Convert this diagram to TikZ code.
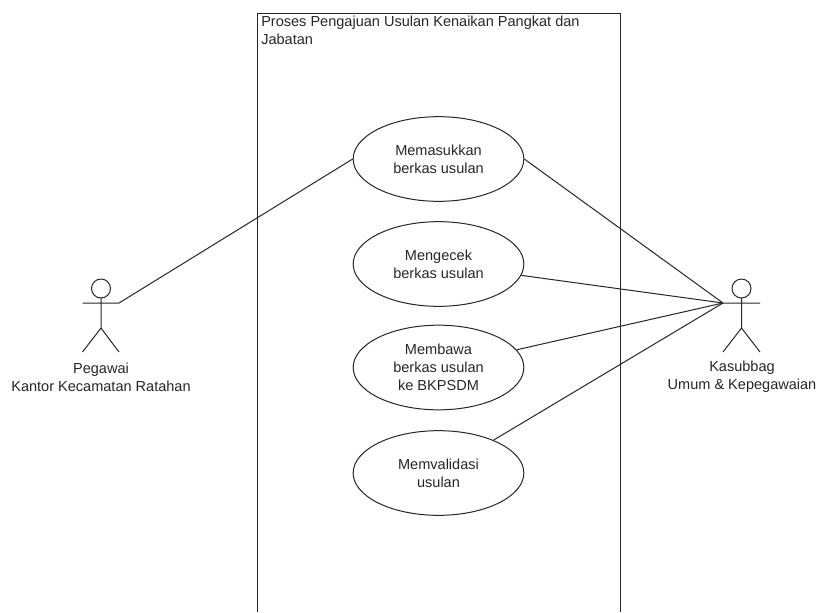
\documentclass[tikz,border=0pt]{standalone}
\usepackage{fontspec}
\setmainfont{Liberation Sans}
\usetikzlibrary{shapes.geometric}
\colorlet{inktext}{black!85}
\colorlet{inkline}{black!85}
\tikzset{
  px/.style={x=0.75pt,y=-0.75pt},
  uc/.style={draw=inkline,text=inktext,ellipse,minimum width=128pt,minimum height=63.5pt,inner sep=0pt,align=center,font=\fontsize{10.9}{13.5}\selectfont,line width=0.75pt},
  lbl/.style={text=inktext,align=center,font=\fontsize{10.9}{13.5}\selectfont,inner sep=0pt},
  ttl/.style={text=inktext,align=left,anchor=north west,font=\fontsize{10.9}{13.5}\selectfont,inner sep=0pt},
  ln/.style={draw=inkline,line width=0.75pt}
}
\begin{document}
\begin{tikzpicture}[px]
\useasboundingbox (0,0) rectangle (817,612);
\draw[ln] (257,612) -- (257,13) -- (620,13) -- (620,612);
\node[ttl] (title) at (261,16) {Proses Pengajuan Usulan Kenaikan Pangkat dan\\Jabatan};
\node[uc] (a) at (438.5,159) {Memasukkan\\berkas usulan};
\node[uc] (b) at (438.5,264) {Mengecek\\berkas usulan};
\node[uc] (c) at (438.5,367.5) {Membawa\\berkas usulan\\ke BKPSDM};
\node[uc] (d) at (438.5,473) {Memvalidasi\\usulan};
\coordinate (lh) at (119,303);
\coordinate (rh) at (723,303);
\draw[ln] (101,288.5) circle (9.5);
\draw[ln] (101,298) -- (101,328) (82.5,303) -- (119,303) (101,328) -- (82.5,352) (101,328) -- (119,352);
\draw[ln] (741.5,288.5) circle (9.5);
\draw[ln] (741.5,298) -- (741.5,328) (723,303) -- (760,303) (741.5,328) -- (723,352) (741.5,328) -- (760,352);
\node[lbl] (p) at (101,377) {Pegawai\\Kantor Kecamatan Ratahan};
\node[lbl] (k) at (742,377) {Kasubbag\\Umum \& Kepegawaian};
\draw[ln] (lh) -- (a.west);
\draw[ln] (a.east) -- (rh);
\draw[ln] (b) -- (rh);
\draw[ln] (c) -- (rh);
\draw[ln] (d) -- (rh);
\end{tikzpicture}
\end{document}
